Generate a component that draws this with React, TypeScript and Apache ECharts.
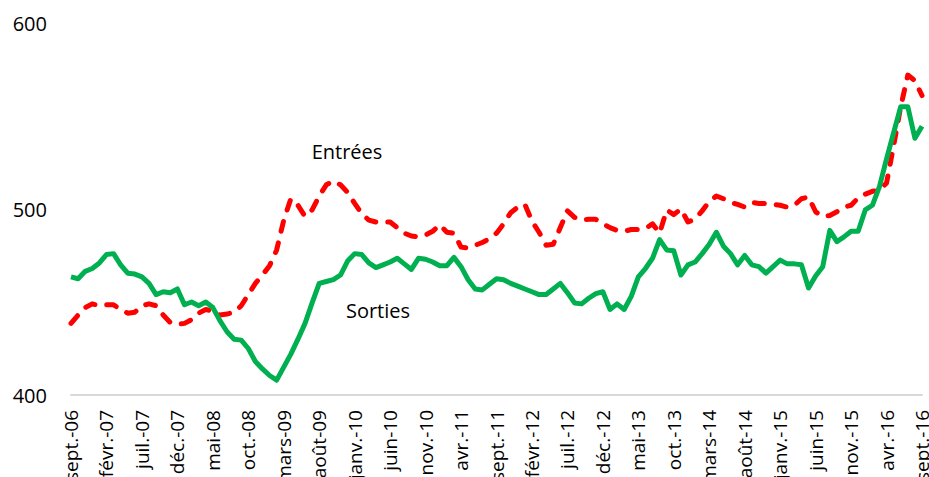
import React, { useEffect, useRef } from 'react';
import * as echarts from 'echarts';

const monthNames = ['janv.', 'févr.', 'mars', 'avr.', 'mai', 'juin', 'juil.', 'août', 'sept.', 'oct.', 'nov.', 'déc.'];
const startYear = 2006;
const startMonthIndex = 8; // sept.
const monthCount = 121;

const categories: string[] = Array.from({ length: monthCount }, (_, i) => {
  const k = startMonthIndex + i;
  const m = k % 12;
  const y = startYear + Math.floor(k / 12);
  return `${monthNames[m]}-${String(y % 100).padStart(2, '0')}`;
});

const sorties = [
  463.5, 462.5, 466.5, 468, 471, 475.5, 476, 470, 465.5, 465,
  463.5, 460, 454, 455.5, 455, 457, 448.5, 450, 448, 450,
  447, 440, 434, 430, 429.5, 425, 418, 414, 410.5, 408,
  415, 422, 430, 438.5, 449.5, 460, 461, 462, 464.5, 472,
  476, 475.5, 471, 468.5, 470, 471.5, 473.5, 470.5, 467.5, 473.5,
  473, 471.5, 469.5, 469.5, 474, 469, 462, 457, 456.5, 459.5,
  462.5, 462, 460, 458.5, 457, 455.5, 454, 454, 457, 460,
  455, 449.5, 449, 452, 454.5, 455.5, 446, 449, 446, 453,
  463.5, 468, 473.5, 483.5, 478, 477.5, 464.5, 470, 471.5, 476,
  481, 487.5, 480, 476, 470, 475, 470, 469, 465.5, 469,
  472.5, 470.5, 470.5, 470, 457.5, 464, 469, 488.5, 482.5, 485,
  488, 488, 499.5, 502, 512, 527, 541, 555, 555, 538,
  544.5,
];

const entrees = [
  438.5, 443, 447, 449, 448, 448.5, 448.5, 446, 444, 444.5,
  448, 449, 448, 443, 439, 438, 438.5, 440.5, 444, 446,
  445, 443, 443.5, 444.5, 448, 454, 460, 464.5, 469.5, 478,
  494, 505.5, 502, 496, 499.5, 507, 513, 515, 513, 509,
  503, 497.5, 494, 493, 493, 493, 490, 487, 485.5, 485,
  486, 488, 491.5, 487.5, 487, 479.5, 479, 480.5, 482, 484,
  487, 492, 498, 501, 502.5, 493.5, 487.5, 480.5, 481, 490,
  499, 495.5, 494, 494.5, 494.5, 492, 490, 488.5, 488, 489,
  489, 489.5, 492, 487, 499.5, 497, 500, 493, 494.5, 499,
  504, 507, 505.5, 503.5, 502.5, 501, 503.5, 503, 503, 502.5,
  502, 501, 502, 505.5, 506.5, 498.5, 496, 496.5, 498.5, 501,
  502, 506, 508, 509.5, 510, 514, 534, 555, 572, 569,
  561,
];

const yTicks = { min: 400, max: 600, interval: 100 };
const seriesNames = { entrees: 'Entrées', sorties: 'Sorties' };

const FONT = '"Open Sans", "Noto Sans", sans-serif';

export default function App() {
  const ref = useRef<HTMLDivElement>(null);

  useEffect(() => {
    if (!ref.current) return;
    const chart = echarts.init(ref.current, undefined, { renderer: 'svg' });
    chart.setOption({
      animation: false,
      backgroundColor: '#ffffff',
      grid: {
        left: 71,
        right: 7,
        top: 23,
        bottom: 82,
        containLabel: false,
        outerBoundsMode: 'none',
      },
      xAxis: {
        type: 'category',
        data: categories,
        boundaryGap: false,
        axisLine: { show: true, lineStyle: { color: '#d9d9d9', width: 2 } },
        axisTick: { show: false },
        axisLabel: {
          interval: 4,
          rotate: 90,
          margin: 15,
          fontSize: 19,
          color: '#000',
          fontFamily: FONT,
          hideOverlap: false,
        },
        splitLine: { show: false },
      },
      yAxis: {
        type: 'value',
        min: yTicks.min,
        max: yTicks.max,
        interval: yTicks.interval,
        axisLine: { show: false },
        axisTick: { show: false },
        splitLine: { show: false },
        axisLabel: { fontSize: 20, color: '#000', margin: 24, fontFamily: FONT },
      },
      series: [
        {
          name: seriesNames.entrees,
          type: 'line',
          data: entrees,
          symbol: 'none',
          lineStyle: { color: '#ff0000', width: 5, type: [10, 12], cap: 'round', join: 'round' },
          z: 2,
        },
        {
          name: seriesNames.sorties,
          type: 'line',
          data: sorties,
          symbol: 'none',
          lineStyle: { color: '#00b050', width: 5, type: 'solid', join: 'round' },
          z: 3,
        },
      ],
      graphic: [
        {
          type: 'text',
          x: 347,
          y: 151,
          style: {
            text: seriesNames.entrees,
            fontSize: 20,
            fontFamily: FONT,
            fill: '#000',
            align: 'center',
            verticalAlign: 'middle',
          },
        },
        {
          type: 'text',
          x: 378,
          y: 310,
          style: {
            text: seriesNames.sorties,
            fontSize: 20,
            fontFamily: FONT,
            fill: '#000',
            align: 'center',
            verticalAlign: 'middle',
          },
        },
      ],
    });
    return () => chart.dispose();
  }, []);

  return (
    <div
      ref={ref}
      style={{ position: 'fixed', left: 0, top: 0, width: '929px', height: '477px' }}
    />
  );
}
